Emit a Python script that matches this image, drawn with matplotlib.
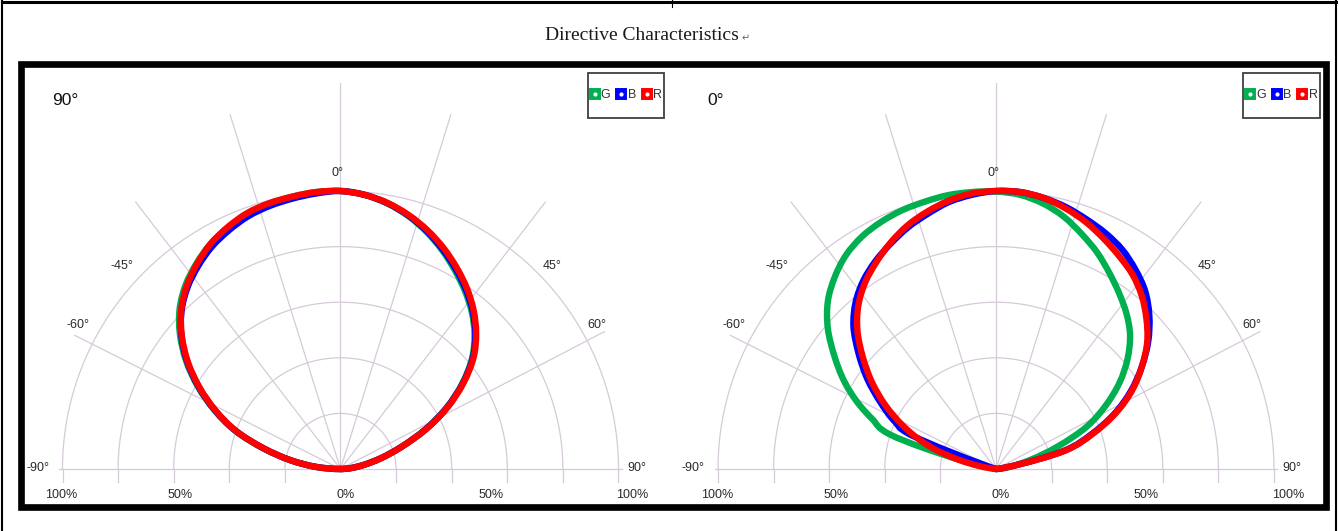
import numpy as np
import matplotlib
matplotlib.use('Agg')
import matplotlib.pyplot as plt
from matplotlib.lines import Line2D
from matplotlib.patches import Rectangle, PathPatch
from matplotlib.path import Path
from matplotlib.legend_handler import HandlerTuple

W, H = 1339, 531
PX = 278.0          # pixels for 100 %
BASE_Y = 469.0      # pixel row of the chart origins

# --- 90 degree orientation (left chart) ---
angles_90 = [-90, -85, -80, -75, -70, -65, -60, -55, -50, -45, -40, -35, -30,
             -25, -20, -15, -10, -5, 0, 5, 10, 15, 20, 25, 30, 35, 40, 45, 50,
             55, 60, 65, 70, 75, 80, 85, 90]
g_90 = [0, 0.09, 0.183, 0.287, 0.403, 0.50, 0.592, 0.678, 0.754, 0.818, 0.866,
        0.903, 0.935, 0.958, 0.977, 0.988, 0.995, 1.0, 1.0, 0.99, 0.97, 0.942,
        0.907, 0.867, 0.824, 0.781, 0.735, 0.682, 0.617, 0.534, 0.44, 0.337,
        0.233, 0.151, 0.085, 0.038, 0]
b_90 = [0, 0.09, 0.183, 0.286, 0.401, 0.497, 0.588, 0.673, 0.747, 0.808, 0.855,
        0.892, 0.924, 0.948, 0.968, 0.98, 0.988, 0.995, 1.0, 0.99, 0.971, 0.944,
        0.91, 0.871, 0.83, 0.787, 0.74, 0.686, 0.621, 0.537, 0.442, 0.338,
        0.234, 0.151, 0.085, 0.038, 0]
r_90 = [0, 0.09, 0.183, 0.285, 0.40, 0.495, 0.585, 0.67, 0.745, 0.81, 0.86,
        0.90, 0.935, 0.96, 0.98, 0.99, 0.995, 1.0, 1.0, 0.99, 0.972, 0.946,
        0.914, 0.877, 0.836, 0.793, 0.745, 0.69, 0.625, 0.54, 0.445, 0.34,
        0.235, 0.152, 0.085, 0.038, 0]

# --- 0 degree orientation (right chart) ---
angles_0 = [-90, -85, -80, -76, -72, -68, -65, -60, -55, -50, -45, -40, -35,
            -30, -25, -20, -15, -10, -5, 0, 5, 10, 15, 20, 25, 30, 35, 40, 45,
            50, 55, 60, 65, 70, 75, 80, 85, 90]
g_0 = [0, 0, 0, 0.13, 0.40, 0.48, 0.54, 0.63, 0.71, 0.79, 0.855, 0.902, 0.94,
       0.965, 0.98, 0.99, 0.995, 1.0, 1.0, 0.998, 0.99, 0.97, 0.94, 0.90,
       0.86, 0.815, 0.772, 0.73, 0.682, 0.618, 0.543, 0.455, 0.36, 0.235, 0.13,
       0.06, 0.025, 0]
b_0 = [0, 0, 0, 0, 0, 0.34, 0.40, 0.48, 0.565, 0.645, 0.725, 0.785, 0.83,
       0.865, 0.895, 0.925, 0.95, 0.975, 0.99, 1.0, 1.0, 0.99, 0.975, 0.955,
       0.935, 0.91, 0.875, 0.835, 0.78, 0.715, 0.64, 0.56, 0.47, 0.365, 0.255,
       0.05, 0, 0]
r_0 = [0, 0, 0.06, 0.14, 0.235, 0.315, 0.37, 0.46, 0.545, 0.625, 0.705, 0.77,
       0.82, 0.86, 0.898, 0.932, 0.958, 0.98, 0.995, 1.0, 1.0, 0.99, 0.97,
       0.945, 0.915, 0.885, 0.855, 0.815, 0.765, 0.71, 0.64, 0.565, 0.475,
       0.37, 0.26, 0.05, 0, 0]

series_names = ['G', 'B', 'R']
series_colors = ['#00b050', '#0000ff', '#ff0000']

ring_levels = [0.2, 0.4, 0.6, 0.8, 1.0]
# spoke direction (deg from vertical) and length
spokes = [(-63.3, 1.07), (-37.5, 1.21), (-17.3, 1.335), (0, 1.39),
          (17.3, 1.335), (37.5, 1.21), (62.5, 1.07)]
deg_labels = ['0°', '-45°', '45°', '-60°', '60°', '-90°', '90°']
pct_labels = ['100%', '50%', '0%', '50%', '100%']

GRID = '#d6cad9'
TXT = '#2a2a2a'
SANS = ['Liberation Sans', 'DejaVu Sans']

fig = plt.figure(figsize=(W / 100, H / 100), dpi=100)


def make_axes(origin_x):
    left = origin_x - 1.15 * PX
    bottom = BASE_Y + 0.12 * PX
    ax = fig.add_axes([left / W, 1 - bottom / H, 2.3 * PX / W, 1.54 * PX / H])
    ax.set_xlim(-1.15, 1.15)
    ax.set_ylim(-0.12, 1.42)
    ax.axis('off')
    return ax


def polar_curve(angles, values):
    # smooth curve through (angle, r) points; bezier handles follow the
    # polar derivative so constant r gives a true arc
    th = np.radians(angles)
    r = np.asarray(values, dtype=float)
    dr = np.gradient(r, th)
    px, py = r * np.sin(th), r * np.cos(th)
    tx = dr * np.sin(th) + r * np.cos(th)
    ty = dr * np.cos(th) - r * np.sin(th)
    verts = [(px[0], py[0])]
    codes = [Path.MOVETO]
    for i in range(len(th) - 1):
        if r[i] == 0 and r[i + 1] == 0:
            # both ends sit at the origin: nothing to draw
            verts.append((px[i + 1], py[i + 1]))
            codes.append(Path.MOVETO)
            continue
        h = (th[i + 1] - th[i]) / 3
        verts += [(px[i] + tx[i] * h, py[i] + ty[i] * h),
                  (px[i + 1] - tx[i + 1] * h, py[i + 1] - ty[i + 1] * h),
                  (px[i + 1], py[i + 1])]
        codes += [Path.CURVE4] * 3
    return Path(verts, codes)


def draw_chart(ax, corner, angles, values):
    # concentric rings with short ticks under the base line
    t = np.radians(np.linspace(-90, 90, 361))
    for r in ring_levels:
        ax.plot(r * np.sin(t), r * np.cos(t), color=GRID, lw=0.9, zorder=1)
        for s in (-1, 1):
            ax.plot([s * r, s * r], [0, -0.045], color=GRID, lw=0.9, zorder=1)
    ax.plot([-1.012, 1.012], [0, 0], color=GRID, lw=0.9, zorder=1)
    for a, ln in spokes:
        p = np.radians(a)
        ax.plot([0, ln * np.sin(p)], [0, ln * np.cos(p)],
                color=GRID, lw=0.9, zorder=1)

    for vals, c in zip(values, series_colors):
        ax.add_patch(PathPatch(polar_curve(angles, vals), fill=False,
                               edgecolor=c, lw=4.6, joinstyle='round',
                               capstyle='round', zorder=3))

    pos = [(-0.01, 1.065), (-0.787, 0.73), (0.76, 0.73), (-0.943, 0.518),
           (0.922, 0.518), (-1.089, 0.004), (1.066, 0.004)]
    for txt, (x, y) in zip(deg_labels, pos):
        ax.text(x, y, txt, ha='center', va='center', fontsize=9,
                color=TXT, family=SANS, zorder=4)
    for txt, x in zip(pct_labels, [-1.004, -0.577, 0.017, 0.54, 1.05]):
        ax.text(x, -0.094, txt, ha='center', va='center', fontsize=9,
                color=TXT, family=SANS, clip_on=False)

    ax.text(-1.038, 1.324, corner, ha='left', va='center', fontsize=12.5,
            color='#111111', family=SANS)

    # legend box
    ax.add_patch(Rectangle((0.89, 1.262), 0.274, 0.164, fill=False,
                           edgecolor='#404040', lw=1.3, clip_on=False, zorder=5))
    handles = []
    for c in series_colors:
        sq = Line2D([], [], ls='', marker='s', ms=7.5, mfc=c, mec=c, mew=1.4)
        dot = Line2D([], [], ls='', marker='o', ms=2, mfc='white', mec='white')
        handles.append((sq, dot))
    ax.legend(handles, series_names, ncol=3, loc='center',
              bbox_to_anchor=(1.027, 1.344), bbox_transform=ax.transData,
              frameon=False, handlelength=0.75, handletextpad=0.12,
              columnspacing=0.5, borderpad=0, borderaxespad=0,
              labelcolor='#333333',
              prop={'family': SANS, 'size': 9},
              handler_map={tuple: HandlerTuple(ndivide=1, pad=0)})


ax1 = make_axes(340.5)
draw_chart(ax1, '90°', angles_90, [g_90, b_90, r_90])
ax2 = make_axes(996.0)
draw_chart(ax2, '0°', angles_0, [g_0, b_0, r_0])

# title
fig.text(545 / W, 1 - 36 / H, 'Directive Characteristics', ha='left',
         va='center', fontsize=14, color='#1a1a1a', family='Liberation Serif')
fig.text(746 / W, 1 - 38 / H, '↵', ha='center', va='center', fontsize=7,
         color='#666666', family='DejaVu Sans')

# heavy frame round both charts
fig.patches.append(Rectangle((20.5 / W, 1 - 507 / H), 1305.5 / W, 443.5 / H,
                             transform=fig.transFigure, fill=False,
                             edgecolor='black', lw=4.8))
# thin page border
for xs in (2, 1336):
    fig.add_artist(Line2D([xs / W, xs / W], [0, 1], transform=fig.transFigure,
                          color='black', lw=1.5))
fig.add_artist(Line2D([2 / W, 1336 / W], [1 - 1.5 / H, 1 - 1.5 / H],
                      transform=fig.transFigure, color='black', lw=2.2))
fig.add_artist(Line2D([672 / W, 672 / W], [1, 1 - 7 / H],
                      transform=fig.transFigure, color='black', lw=0.8))

fig.savefig('out.png', dpi=100)
